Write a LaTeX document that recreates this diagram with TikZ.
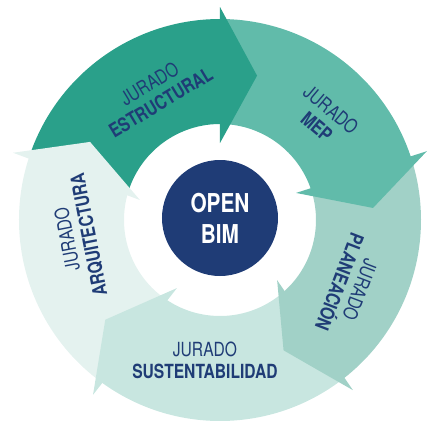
\documentclass[tikz,border=0pt]{standalone}
\usepackage{fontspec}
\setmainfont{TeX Gyre Heros}[FakeStretch=0.8]
\usetikzlibrary{shapes}
\definecolor{navy}{RGB}{31,60,118}
\definecolor{estr}{RGB}{42,160,138}
\definecolor{mep}{RGB}{97,187,170}
\definecolor{plan}{RGB}{161,209,199}
\definecolor{sust}{RGB}{200,230,224}
\definecolor{arq}{RGB}{228,242,239}
\tikzset{
    body/.style = {draw=none},
    head/.style = {draw=none},
    jurado/.style = {align=center, text=navy, inner sep=0pt, font=\fontsize{19.5}{22}\selectfont},
    centre/.style = {circle, fill=navy, text=white, align=center, minimum size=116pt, font=\bfseries\fontsize{26}{31}\selectfont}
}

\begin{document}
\begin{tikzpicture}[x=1pt,y=1pt]
\useasboundingbox (-220,-220) rectangle (220,220);

% ring
\fill[body,estr] (160.5:201) arc[start angle=160.5, end angle=88.5, radius=201] -- (88.5:96) arc[start angle=88.5, end angle=164.5, radius=96] -- cycle;
\fill[body,mep] (88.5:201) arc[start angle=88.5, end angle=17, radius=201] -- (18:96) arc[start angle=18, end angle=88.5, radius=96] -- cycle;
\fill[body,plan] (17:201) arc[start angle=17, end angle=-53.5, radius=201] -- (-48:96) arc[start angle=-48, end angle=18, radius=96] -- cycle;
\fill[body,sust] (-53.5:201) arc[start angle=-53.5, end angle=-127.5, radius=201] -- (-124:96) arc[start angle=-124, end angle=-48, radius=96] -- cycle;
\fill[body,arq] (232.5:201) arc[start angle=232.5, end angle=160.5, radius=201] -- (164.5:96) arc[start angle=164.5, end angle=236, radius=96] -- cycle;

% arrow heads
\fill[head,estr] (90:213) -- (75.6:149) -- (90:77) -- cycle;
\fill[head,mep] (18.4:218) -- (4.5:153.5) -- (19.6:80.7) -- cycle;
\fill[head,plan] (-52:216) -- (-64:145) -- (-46.5:83) -- cycle;
\fill[head,sust] (234:216) -- (221:152) -- (237.7:80.5) -- cycle;
\fill[head,arq] (162:217.6) -- (149:151.6) -- (166:82.5) -- cycle;

\node[centre] (openbim) at (0,2) {OPEN\\BIM};

\node[jurado, rotate=31] (jestr) at (-65,127) {JURADO\\\textbf{ESTRUCTURAL}};
\node[jurado, rotate=-40] (jmep) at (104,102) {JURADO\\\textbf{MEP}};
\node[jurado, rotate=-111] (jplan) at (130,-66) {JURADO\\\textbf{PLANEACIÓN}};
\node[jurado] (jsust) at (-15,-140) {JURADO\\\textbf{SUSTENTABILIDAD}};
\node[jurado, rotate=101] (jarq) at (-142,-17) {JURADO\\\textbf{ARQUITECTURA}};

\end{tikzpicture}
\end{document}
